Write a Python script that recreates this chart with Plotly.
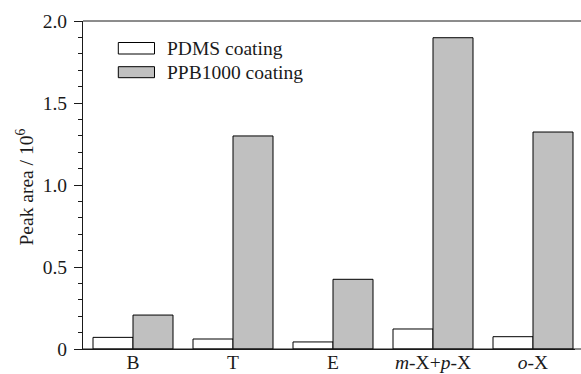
import plotly.graph_objects as go

categories = ["B", "T", "E", "m-X+p-X", "o-X"]
tick_labels = ["B", "T", "E", "<i>m</i>-X+<i>p</i>-X", "<i>o</i>-X"]
pdms = [0.071, 0.061, 0.043, 0.122, 0.075]
ppb1000 = [0.207, 1.299, 0.425, 1.898, 1.323]
series_names = ["PDMS coating", "PPB1000 coating"]
series_colors = ["#ffffff", "#c0c0c0"]
y_tickvals = [0, 0.5, 1.0, 1.5, 2.0]
y_ticktext = ["0", "0.5", "1.0", "1.5", "2.0"]

FONT = "Liberation Serif"
TXT = "#1a1a1a"
W, H = 581, 374
ML, MT, MB, MR = 83, 21, 25, 0
PLOT_RIGHT = 575  # right edge of the plotting area in px

pw = W - ML - MR
ph = H - MT - MB
def px2x(px):
    return (px - ML) / pw
def px2y(py):
    return (H - MB - py) / ph

fig = go.Figure()
for name, vals, col in zip(series_names, [pdms, ppb1000], series_colors):
    fig.add_trace(go.Bar(
        x=categories, y=vals, name=name,
        marker=dict(color=col, line=dict(color="#000000", width=1)),
        showlegend=False,
    ))

fig.update_layout(
    width=W, height=H,
    margin=dict(l=ML, r=MR, t=MT, b=MB, pad=0),
    paper_bgcolor="white", plot_bgcolor="white",
    barmode="group", bargap=0.2, bargroupgap=0,
    font=dict(family=FONT, color=TXT, size=19.5),
)
fig.update_xaxes(
    type="category", range=[-0.5, -0.5 + (PLOT_RIGHT - ML) / 100.0],
    domain=[0, px2x(PLOT_RIGHT)],
    tickvals=categories, ticktext=tick_labels,
    showline=True, linecolor="#1a1a1a", linewidth=1, mirror=False,
    ticks="", showgrid=False, zeroline=False,
    tickfont=dict(family=FONT, size=19.5, color=TXT),
    ticklabelstandoff=-4,
    automargin=False,
)
fig.update_yaxes(
    range=[0, 2.0],
    tickvals=y_tickvals, ticktext=y_ticktext,
    showline=True, linecolor="#1a1a1a", linewidth=1, mirror=False,
    ticks="outside", ticklen=8, tickwidth=1, tickcolor="#1a1a1a",
    minor=dict(dtick=0.1, ticks="outside", ticklen=4, tickwidth=1, tickcolor="#1a1a1a", showgrid=False),
    showgrid=False, zeroline=False,
    tickfont=dict(family=FONT, size=19.5, color=TXT),
    ticklabelstandoff=3,
    automargin=False,
)

# top and bottom frame lines running to the right edge of the picture
fig.add_shape(type="line", xref="paper", yref="paper", x0=0, x1=1, y0=1, y1=1,
              line=dict(color="#1a1a1a", width=1))
fig.add_shape(type="line", xref="paper", yref="paper", x0=0, x1=1, y0=0, y1=0,
              line=dict(color="#1a1a1a", width=1))

fig.add_annotation(
    text="Peak area / 10<sup>6</sup>", textangle=-90,
    xref="paper", yref="paper", x=px2x(25), y=px2y(187.5),
    xanchor="center", yanchor="middle", showarrow=False,
    font=dict(family=FONT, size=19.5, color=TXT),
)

legend_rows = [(42.5, 54.0), (66.7, 77.7)]
for (y0, y1), name, col in zip(legend_rows, series_names, series_colors):
    fig.add_shape(
        type="rect", xref="paper", yref="paper",
        x0=px2x(118.3), x1=px2x(154.5), y0=px2y(y1), y1=px2y(y0),
        fillcolor=col, line=dict(color="#000000", width=1),
    )
    fig.add_annotation(
        text=name, xref="paper", yref="paper",
        x=px2x(165), y=px2y((y0 + y1) / 2),
        xanchor="left", yanchor="middle", showarrow=False,
        font=dict(family=FONT, size=19.5, color=TXT),
    )

fig.write_html("out.html")
